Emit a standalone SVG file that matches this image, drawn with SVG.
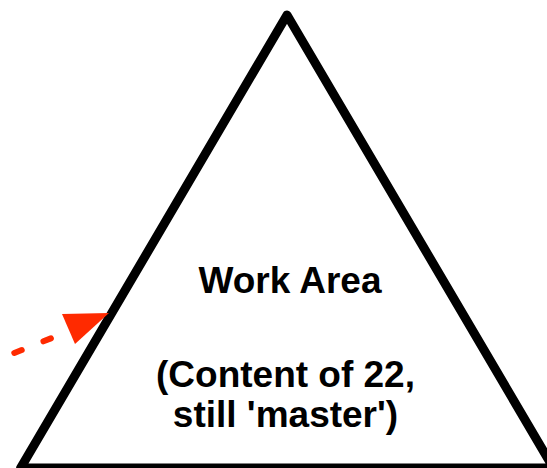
<svg xmlns="http://www.w3.org/2000/svg" width="547" height="468" viewBox="0 0 547 468">
<style>
.tri{fill:#ffffff;stroke:#000000;stroke-width:9;stroke-linejoin:round}
.lbl{font-family:"Liberation Sans",Arial,sans-serif;font-weight:bold;font-size:37px;fill:#000000;text-anchor:middle}
.dash{fill:none;stroke:#ff2a00;stroke-width:6;stroke-linecap:round;stroke-dasharray:8 23.4}
.head{fill:#ff2a00;stroke:none}
</style>
<rect width="547" height="468" fill="#ffffff"/>
<g id="work-area">
<polygon class="tri" points="287,15 20.6,468 553.4,468"/>
<text class="lbl" x="290" y="293">Work Area</text>
<text class="lbl" x="285.5" y="387">(Content of 22,</text>
<text class="lbl" x="285.5" y="427">still 'master')</text>
</g>
<g id="connectors">
<path class="dash" d="M14.3,353 L66,332.3"/>
<polygon class="head" points="109,313 62,314 75,344"/>
</g>
</svg>
